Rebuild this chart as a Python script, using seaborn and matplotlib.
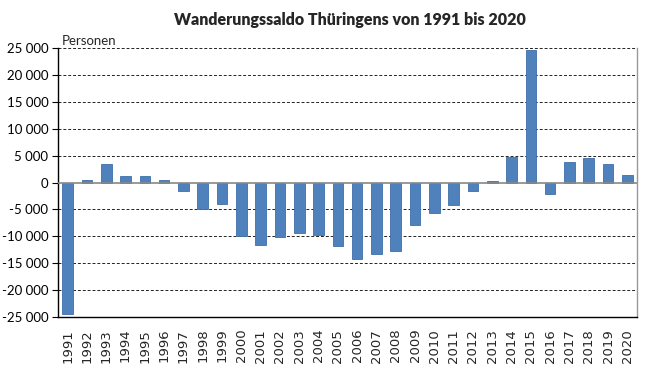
import matplotlib
matplotlib.use("Agg")
import matplotlib.pyplot as plt
import seaborn as sns
import pandas as pd
from matplotlib.ticker import FuncFormatter

years = [str(y) for y in range(1991, 2021)]
saldo = [-24400, 500, 3530, 1240, 1240, 500, -1670, -4900, -3970, -9910,
         -11650, -10220, -9350, -9790, -11770, -14190, -13260, -12640, -7930, -5700,
         -4150, -1670, 190, 4650, 24540, -2170, 3900, 4520, 3350, 1430]
yticks = list(range(-25000, 25001, 5000))

title = "Wanderungssaldo Thüringens von 1991 bis 2020"
unit = "Personen"

sns.set_style("white")
plt.rcParams['font.family'] = ['Lato', 'DejaVu Sans']

df = pd.DataFrame({"Jahr": years, "Saldo": saldo})

fig = plt.figure(figsize=(6.45, 3.72), dpi=100)
ax = fig.add_axes([0.0899, 0.1478, 0.8977, 0.7232])

sns.barplot(data=df, x="Jahr", y="Saldo", color="#4F81BD", saturation=1,
            width=0.55, edgecolor="#3F6FA8", linewidth=0.6, ax=ax, zorder=3)

ax.set_ylim(-25000, 25000)
ax.set_xlim(-0.5, len(years) - 0.5)
ax.set_yticks(yticks)
ax.yaxis.set_major_formatter(FuncFormatter(lambda v, p: f"{int(v):,}".replace(",", " ")))
ax.set_xlabel("")
ax.set_ylabel("")

for y in yticks:
    if y == 0:
        continue
    ax.axhline(y, color="#222222", linestyle=(0, (3, 2)), linewidth=0.7, zorder=1)
ax.axhline(0, color="#888888", linewidth=1.2, zorder=4)

for s in ["left", "bottom"]:
    ax.spines[s].set_color("black")
    ax.spines[s].set_linewidth(1.0)
ax.spines["right"].set_color("#999999")
ax.spines["right"].set_linewidth(1.0)
ax.spines["top"].set_visible(False)

ax.tick_params(axis="y", which="major", left=True, length=4, width=0.8,
               labelsize=9.5, pad=3, colors="black")
ax.tick_params(axis="x", which="major", bottom=False, labelsize=9.5, pad=5)
for lab in ax.get_xticklabels():
    lab.set_rotation(90)
    lab.set_family("DejaVu Sans")
    lab.set_va("top")

fig.text(0.543, 0.945, title, ha="center", va="center", fontsize=11.5, fontweight="heavy")
ax.text(0.006, 1.005, unit, transform=ax.transAxes, ha="left", va="bottom", fontsize=9.5)

fig.savefig("out.png", dpi=100)
